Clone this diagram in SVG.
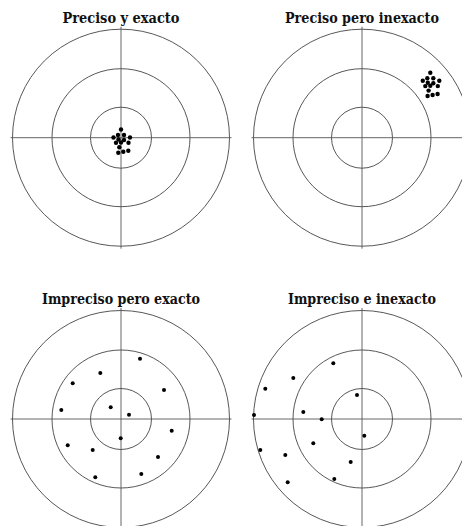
<svg xmlns="http://www.w3.org/2000/svg" xmlns:xlink="http://www.w3.org/1999/xlink" width="462" height="526" viewBox="0 0 462 526">
<style>
.ring{fill:none;stroke:#444;stroke-width:0.9}
.axis{stroke:#555;stroke-width:0.9}
.dot{fill:#000}
.title{font-family:"DejaVu Serif","Liberation Serif",serif;font-weight:bold;font-size:14px;text-anchor:middle;fill:#111}
</style>
<defs>
<g id="target">
<circle class="ring" cx="0" cy="0" r="108.5"/>
<circle class="ring" cx="0" cy="0" r="69"/>
<circle class="ring" cx="0" cy="0" r="30.5"/>
<line class="axis" x1="-110.5" y1="0" x2="110.5" y2="0"/>
<line class="axis" x1="0" y1="-111" x2="0" y2="111"/>
</g>
<g id="cluster">
<circle class="dot" cx="0" cy="-10.5" r="2.2"/>
<circle class="dot" cx="-3" cy="-5" r="2.2"/>
<circle class="dot" cx="3" cy="-5" r="2.2"/>
<circle class="dot" cx="-7.5" cy="-2.5" r="2.2"/>
<circle class="dot" cx="9" cy="-2.5" r="2.2"/>
<circle class="dot" cx="-2.5" cy="-0.5" r="2.2"/>
<circle class="dot" cx="3" cy="0" r="2.2"/>
<circle class="dot" cx="0" cy="2.5" r="2.2"/>
<circle class="dot" cx="-5" cy="2.8" r="2.2"/>
<circle class="dot" cx="7.5" cy="2.8" r="2.2"/>
<circle class="dot" cx="-1.7" cy="7.3" r="2.2"/>
<circle class="dot" cx="-2.7" cy="12.7" r="2.2"/>
<circle class="dot" cx="2.3" cy="11.7" r="2.2"/>
<circle class="dot" cx="7.3" cy="10.7" r="2.2"/>
</g>
</defs>

<g id="target-preciso-exacto">
<text class="title" x="121" y="23" textLength="117" lengthAdjust="spacingAndGlyphs">Preciso y exacto</text>
<use xlink:href="#target" href="#target" transform="translate(121,137.7)"/>
<use xlink:href="#cluster" href="#cluster" transform="translate(121,140)"/>
</g>

<g id="target-preciso-inexacto">
<text class="title" x="362" y="23" textLength="154" lengthAdjust="spacingAndGlyphs">Preciso pero inexacto</text>
<use xlink:href="#target" href="#target" transform="translate(362,137.7)"/>
<use xlink:href="#cluster" href="#cluster" transform="translate(430.3,83.3)"/>
</g>

<g id="target-impreciso-exacto">
<text class="title" x="121" y="304" textLength="158" lengthAdjust="spacingAndGlyphs">Impreciso pero exacto</text>
<use xlink:href="#target" href="#target" transform="translate(121,419)"/>
<circle class="dot" cx="140" cy="358.7" r="2"/>
<circle class="dot" cx="100.3" cy="373" r="2"/>
<circle class="dot" cx="72.7" cy="383.3" r="2"/>
<circle class="dot" cx="164" cy="390" r="2"/>
<circle class="dot" cx="61.3" cy="410" r="2"/>
<circle class="dot" cx="110.7" cy="407.3" r="2"/>
<circle class="dot" cx="129" cy="414.7" r="2"/>
<circle class="dot" cx="171.7" cy="430.7" r="2"/>
<circle class="dot" cx="120.7" cy="438.3" r="2"/>
<circle class="dot" cx="67.7" cy="445.3" r="2"/>
<circle class="dot" cx="92.7" cy="450" r="2"/>
<circle class="dot" cx="158" cy="457" r="2"/>
<circle class="dot" cx="95.3" cy="477.3" r="2"/>
<circle class="dot" cx="141.3" cy="474" r="2"/>
</g>

<g id="target-impreciso-inexacto">
<text class="title" x="362" y="304" textLength="148" lengthAdjust="spacingAndGlyphs">Impreciso e inexacto</text>
<use xlink:href="#target" href="#target" transform="translate(362,419)"/>
<circle class="dot" cx="333.3" cy="363.3" r="2"/>
<circle class="dot" cx="293.3" cy="378" r="2"/>
<circle class="dot" cx="265.3" cy="388.7" r="2"/>
<circle class="dot" cx="357" cy="395" r="2"/>
<circle class="dot" cx="254" cy="415" r="2"/>
<circle class="dot" cx="303.3" cy="412" r="2"/>
<circle class="dot" cx="321.7" cy="419.3" r="2"/>
<circle class="dot" cx="364.3" cy="435.7" r="2"/>
<circle class="dot" cx="313.3" cy="443.3" r="2"/>
<circle class="dot" cx="260.3" cy="450" r="2"/>
<circle class="dot" cx="285.3" cy="455" r="2"/>
<circle class="dot" cx="350.7" cy="462" r="2"/>
<circle class="dot" cx="334.3" cy="479" r="2"/>
<circle class="dot" cx="287.7" cy="482.3" r="2"/>
</g>

<g id="connectors"></g>
</svg>
